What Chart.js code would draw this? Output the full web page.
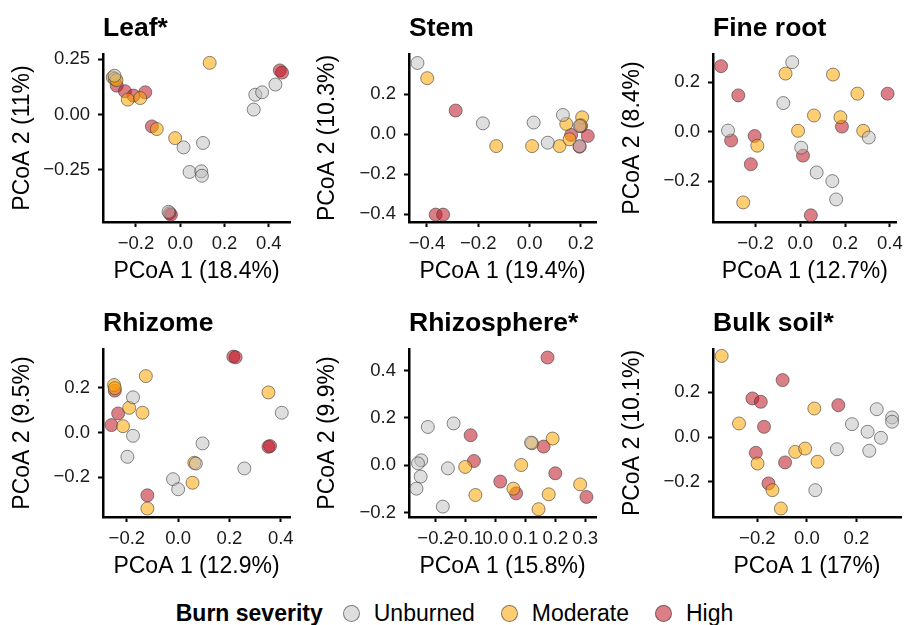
<!DOCTYPE html>
<html>
<head>
<meta charset="utf-8">
<script src="https://cdn.jsdelivr.net/npm/chart.js@4.4.1/dist/chart.umd.min.js"></script>
<style>
  html, body { margin: 0; padding: 0; background: #fff; }
  #wrap { position: relative; width: 909px; height: 625px; font-family: "Liberation Sans", Arial, sans-serif; }
  .panel { position: absolute; width: 303px; height: 295px; }
  #legend { position: absolute; left: 0; top: 599px; width: 909px; height: 28px; display: flex; justify-content: center; align-items: center; font-size: 23px; color: #000; }
  #legend b { margin-right: 20px; }
  .dot { display: inline-block; width: 17px; height: 17px; border-radius: 50%; border: 1px solid rgba(60,60,60,0.6); box-sizing: border-box; margin-right: 14px; }
  .lab { margin-right: 26px; }
</style>
</head>
<body>
<div id="wrap">
  <canvas id="c0" class="panel" width="303" height="295" style="left:0;top:0"></canvas>
  <canvas id="c1" class="panel" width="303" height="295" style="left:303px;top:0"></canvas>
  <canvas id="c2" class="panel" width="303" height="295" style="left:606px;top:0"></canvas>
  <canvas id="c3" class="panel" width="303" height="295" style="left:0;top:295px"></canvas>
  <canvas id="c4" class="panel" width="303" height="295" style="left:303px;top:295px"></canvas>
  <canvas id="c5" class="panel" width="303" height="295" style="left:606px;top:295px"></canvas>
  <div id="legend"></div>
</div>
<script>
// PCoA scores, [PCoA1, PCoA2]
const groups = ["Unburned", "Moderate", "High"];

const leafUnburned = [[-0.297,0.176],[0.339,0.09],[0.37,0.101],[0.43,0.136],[0.332,0.023],[0.015,-0.148],[0.103,-0.128],[0.042,-0.259],[0.095,-0.256],[0.098,-0.276],[-0.053,-0.439]];
const leafModerate = [[0.133,0.234],[-0.305,0.168],[-0.296,0.162],[-0.288,0.156],[-0.237,0.068],[-0.181,0.075],[-0.106,-0.065],[-0.023,-0.106]];
const leafHigh = [[0.45,0.2],[0.46,0.19],[-0.287,0.131],[-0.25,0.106],[-0.211,0.086],[-0.158,0.101],[-0.128,-0.053],[-0.048,-0.445],[-0.042,-0.452]];

const stemUnburned = [[-0.437,0.357],[-0.182,0.055],[0.016,0.059],[0.071,-0.042],[0.13,0.097],[0.195,0.042],[0.195,-0.059]];
const stemModerate = [[-0.399,0.281],[-0.13,-0.059],[0.01,-0.059],[0.117,-0.059],[0.143,0.052],[0.205,0.085],[0.156,-0.025],[0.2,0.045]];
const stemHigh = [[-0.288,0.119],[-0.366,-0.402],[-0.337,-0.402],[0.162,-0.003],[0.227,-0.008],[0.195,-0.062],[0.2,0.04]];

const fineRootUnburned = [[-0.036,0.28],[-0.076,0.115],[-0.323,0.004],[0.306,-0.024],[0.004,-0.065],[0.073,-0.165],[0.143,-0.2],[0.16,-0.274]];
const fineRootModerate = [[-0.066,0.234],[0.146,0.23],[0.255,0.153],[0.061,0.065],[0.179,0.058],[-0.01,0.003],[0.281,0.003],[-0.192,-0.057],[-0.255,-0.286]];
const fineRootHigh = [[-0.354,0.264],[-0.277,0.146],[-0.309,-0.036],[-0.204,-0.018],[-0.221,-0.132],[0.012,-0.097],[0.186,0.02],[0.39,0.153],[0.047,-0.338]];

const rhizomeUnburned = [[-0.176,0.157],[-0.176,-0.015],[-0.198,-0.109],[0.095,-0.049],[0.069,-0.139],[-0.02,-0.209],[0.0,-0.254],[0.258,-0.161],[0.404,0.088]];
const rhizomeModerate = [[-0.25,0.212],[-0.247,0.198],[-0.126,0.252],[-0.191,0.11],[-0.139,0.088],[-0.215,0.028],[0.352,0.179],[0.063,-0.136],[0.056,-0.225],[-0.12,-0.34]];
const rhizomeHigh = [[0.215,0.339],[0.224,0.336],[-0.247,0.187],[-0.234,0.085],[-0.26,0.033],[-0.12,-0.281],[0.352,-0.064],[0.358,-0.061]];

const rhizosphereUnburned = [[-0.226,0.162],[-0.14,0.177],[0.119,0.096],[-0.248,0.021],[-0.259,0.008],[-0.25,-0.048],[-0.264,-0.099],[-0.159,-0.013],[-0.176,-0.175]];
const rhizosphereModerate = [[0.122,0.093],[0.191,0.113],[-0.101,-0.007],[0.086,0.001],[-0.067,-0.126],[0.06,-0.099],[0.178,-0.123],[0.144,-0.186],[0.283,-0.081]];
const rhizosphereHigh = [[0.174,0.456],[-0.083,0.127],[-0.072,0.018],[0.161,0.079],[0.016,-0.069],[0.069,-0.119],[0.2,-0.034],[0.304,-0.134]];

const bulkSoilUnburned = [[0.182,0.058],[0.282,0.125],[0.344,0.088],[0.344,0.069],[0.245,0.024],[0.299,-0.003],[0.252,-0.061],[0.121,-0.054],[0.034,-0.237]];
const bulkSoilModerate = [[-0.344,0.363],[-0.274,0.061],[0.03,0.128],[-0.199,-0.118],[-0.047,-0.066],[-0.007,-0.051],[0.043,-0.11],[-0.139,-0.237],[-0.105,-0.319]];
const bulkSoilHigh = [[-0.098,0.255],[-0.22,0.173],[-0.186,0.158],[-0.173,0.046],[-0.206,-0.07],[-0.088,-0.113],[-0.155,-0.207],[0.127,0.143]];

const panelNames = ["Leaf*", "Stem", "Fine root", "Rhizome", "Rhizosphere*", "Bulk soil*"];
const xTitles = ["PCoA 1 (18.4%)", "PCoA 1 (19.4%)", "PCoA 1 (12.7%)", "PCoA 1 (12.9%)", "PCoA 1 (15.8%)", "PCoA 1 (17%)"];
const yTitles = ["PCoA 2 (11%)", "PCoA 2 (10.3%)", "PCoA 2 (8.4%)", "PCoA 2 (9.5%)", "PCoA 2 (9.9%)", "PCoA 2 (10.1%)"];
const xRanges = [[-0.349,0.496],[-0.47,0.259],[-0.39,0.43],[-0.293,0.436],[-0.289,0.336],[-0.379,0.38]];
const yRanges = [[-0.485,0.274],[-0.439,0.402],[-0.365,0.313],[-0.378,0.373],[-0.219,0.492],[-0.357,0.394]];
const xTicks = [[-0.2,0,0.2,0.4],[-0.4,-0.2,0,0.2],[-0.2,0,0.2,0.4],[-0.2,0,0.2,0.4],[-0.2,-0.1,0,0.1,0.2,0.3],[-0.2,0,0.2]];
const yTicks = [[-0.25,0,0.25],[-0.4,-0.2,0,0.2],[-0.2,0,0.2],[-0.2,0,0.2],[-0.2,0,0.2,0.4],[-0.2,0,0.2]];
const yDecimals = [2,1,1,1,1,1];
const panelData = [
  [leafUnburned, leafModerate, leafHigh],
  [stemUnburned, stemModerate, stemHigh],
  [fineRootUnburned, fineRootModerate, fineRootHigh],
  [rhizomeUnburned, rhizomeModerate, rhizomeHigh],
  [rhizosphereUnburned, rhizosphereModerate, rhizosphereHigh],
  [bulkSoilUnburned, bulkSoilModerate, bulkSoilHigh]
];

// styling
const fills = ["rgba(190,190,190,0.5)", "rgba(255,165,0,0.55)", "rgba(190,20,35,0.55)"];
const edge = "rgba(60,60,60,0.6)";
const plotLeft = [103, 106, 107];   // width of y axis box per column
const plotRight = [13, 10, 8];      // right padding per column
const yTitlePad = [9, 11, 13];

Chart.defaults.font.family = '"Liberation Sans", Arial, sans-serif';
Chart.defaults.color = "#000";

function fmt(v, d) {
  const s = Math.abs(v).toFixed(d);
  return v < 0 ? "\u2212" + s : s;
}

const panelTitle = {
  id: "panelTitle",
  afterDraw(chart, args, opts) {
    const ctx = chart.ctx;
    ctx.save();
    ctx.font = 'bold 26.5px "Liberation Sans", Arial, sans-serif';
    ctx.fillStyle = "#000";
    ctx.textBaseline = "alphabetic";
    ctx.fillText(opts.text, chart.chartArea.left, opts.baseline);
    ctx.restore();
  }
};

panelNames.forEach((name, i) => {
  const col = i % 3;
  const datasets = groups.map((g, k) => ({
    label: g,
    data: panelData[i][k].map(p => ({ x: p[0], y: p[1] })),
    backgroundColor: fills[k],
    borderColor: edge,
    borderWidth: 1,
    pointRadius: 6.5,
    pointHoverRadius: 6.5,
    clip: false
  }));
  new Chart(document.getElementById("c" + i), {
    type: "scatter",
    data: { datasets },
    plugins: [panelTitle],
    options: {
      responsive: false,
      animation: false,
      layout: { padding: { top: 54, right: plotRight[col], bottom: 0, left: 0 } },
      plugins: {
        legend: { display: false },
        tooltip: { enabled: false },
        panelTitle: { text: name, baseline: 36 }
      },
      scales: {
        x: {
          type: "linear",
          position: "bottom",
          min: xRanges[i][0],
          max: xRanges[i][1],
          afterBuildTicks: axis => { axis.ticks = xTicks[i].map(v => ({ value: v })); },
          afterFit: axis => { axis.height = 73; },
          ticks: {
            autoSkip: false, maxRotation: 0, minRotation: 0, padding: 6,
            color: "#1a1a1a", font: { size: 18.5 },
            callback: v => fmt(v, 1)
          },
          grid: { display: true, drawOnChartArea: false, drawTicks: true, tickLength: 5, tickWidth: 2, tickColor: "#000" },
          border: { display: true, color: "#000", width: 2.5 },
          title: { display: true, text: xTitles[i], font: { size: 23 }, color: "#000", padding: { top: 0, bottom: 10 } }
        },
        y: {
          type: "linear",
          position: "left",
          min: yRanges[i][0],
          max: yRanges[i][1],
          afterBuildTicks: axis => { axis.ticks = yTicks[i].map(v => ({ value: v })); },
          afterFit: axis => { axis.width = plotLeft[col]; },
          ticks: {
            padding: 8, color: "#1a1a1a", font: { size: 18.5 },
            callback: v => fmt(v, yDecimals[i])
          },
          grid: { display: true, drawOnChartArea: false, drawTicks: true, tickLength: 5, tickWidth: 2, tickColor: "#000" },
          border: { display: true, color: "#000", width: 2.5 },
          title: { display: true, text: yTitles[i], font: { size: 23 }, color: "#000", padding: { top: yTitlePad[col], bottom: 0 } }
        }
      }
    }
  });
});

// legend
const legend = document.getElementById("legend");
let html = "<b>Burn severity</b>";
groups.forEach((g, k) => {
  html += '<span class="dot" style="background:' + fills[k] + '"></span><span class="lab">' + g + "</span>";
});
legend.innerHTML = html;
legend.lastChild.style.marginRight = "0";
</script>
</body>
</html>
